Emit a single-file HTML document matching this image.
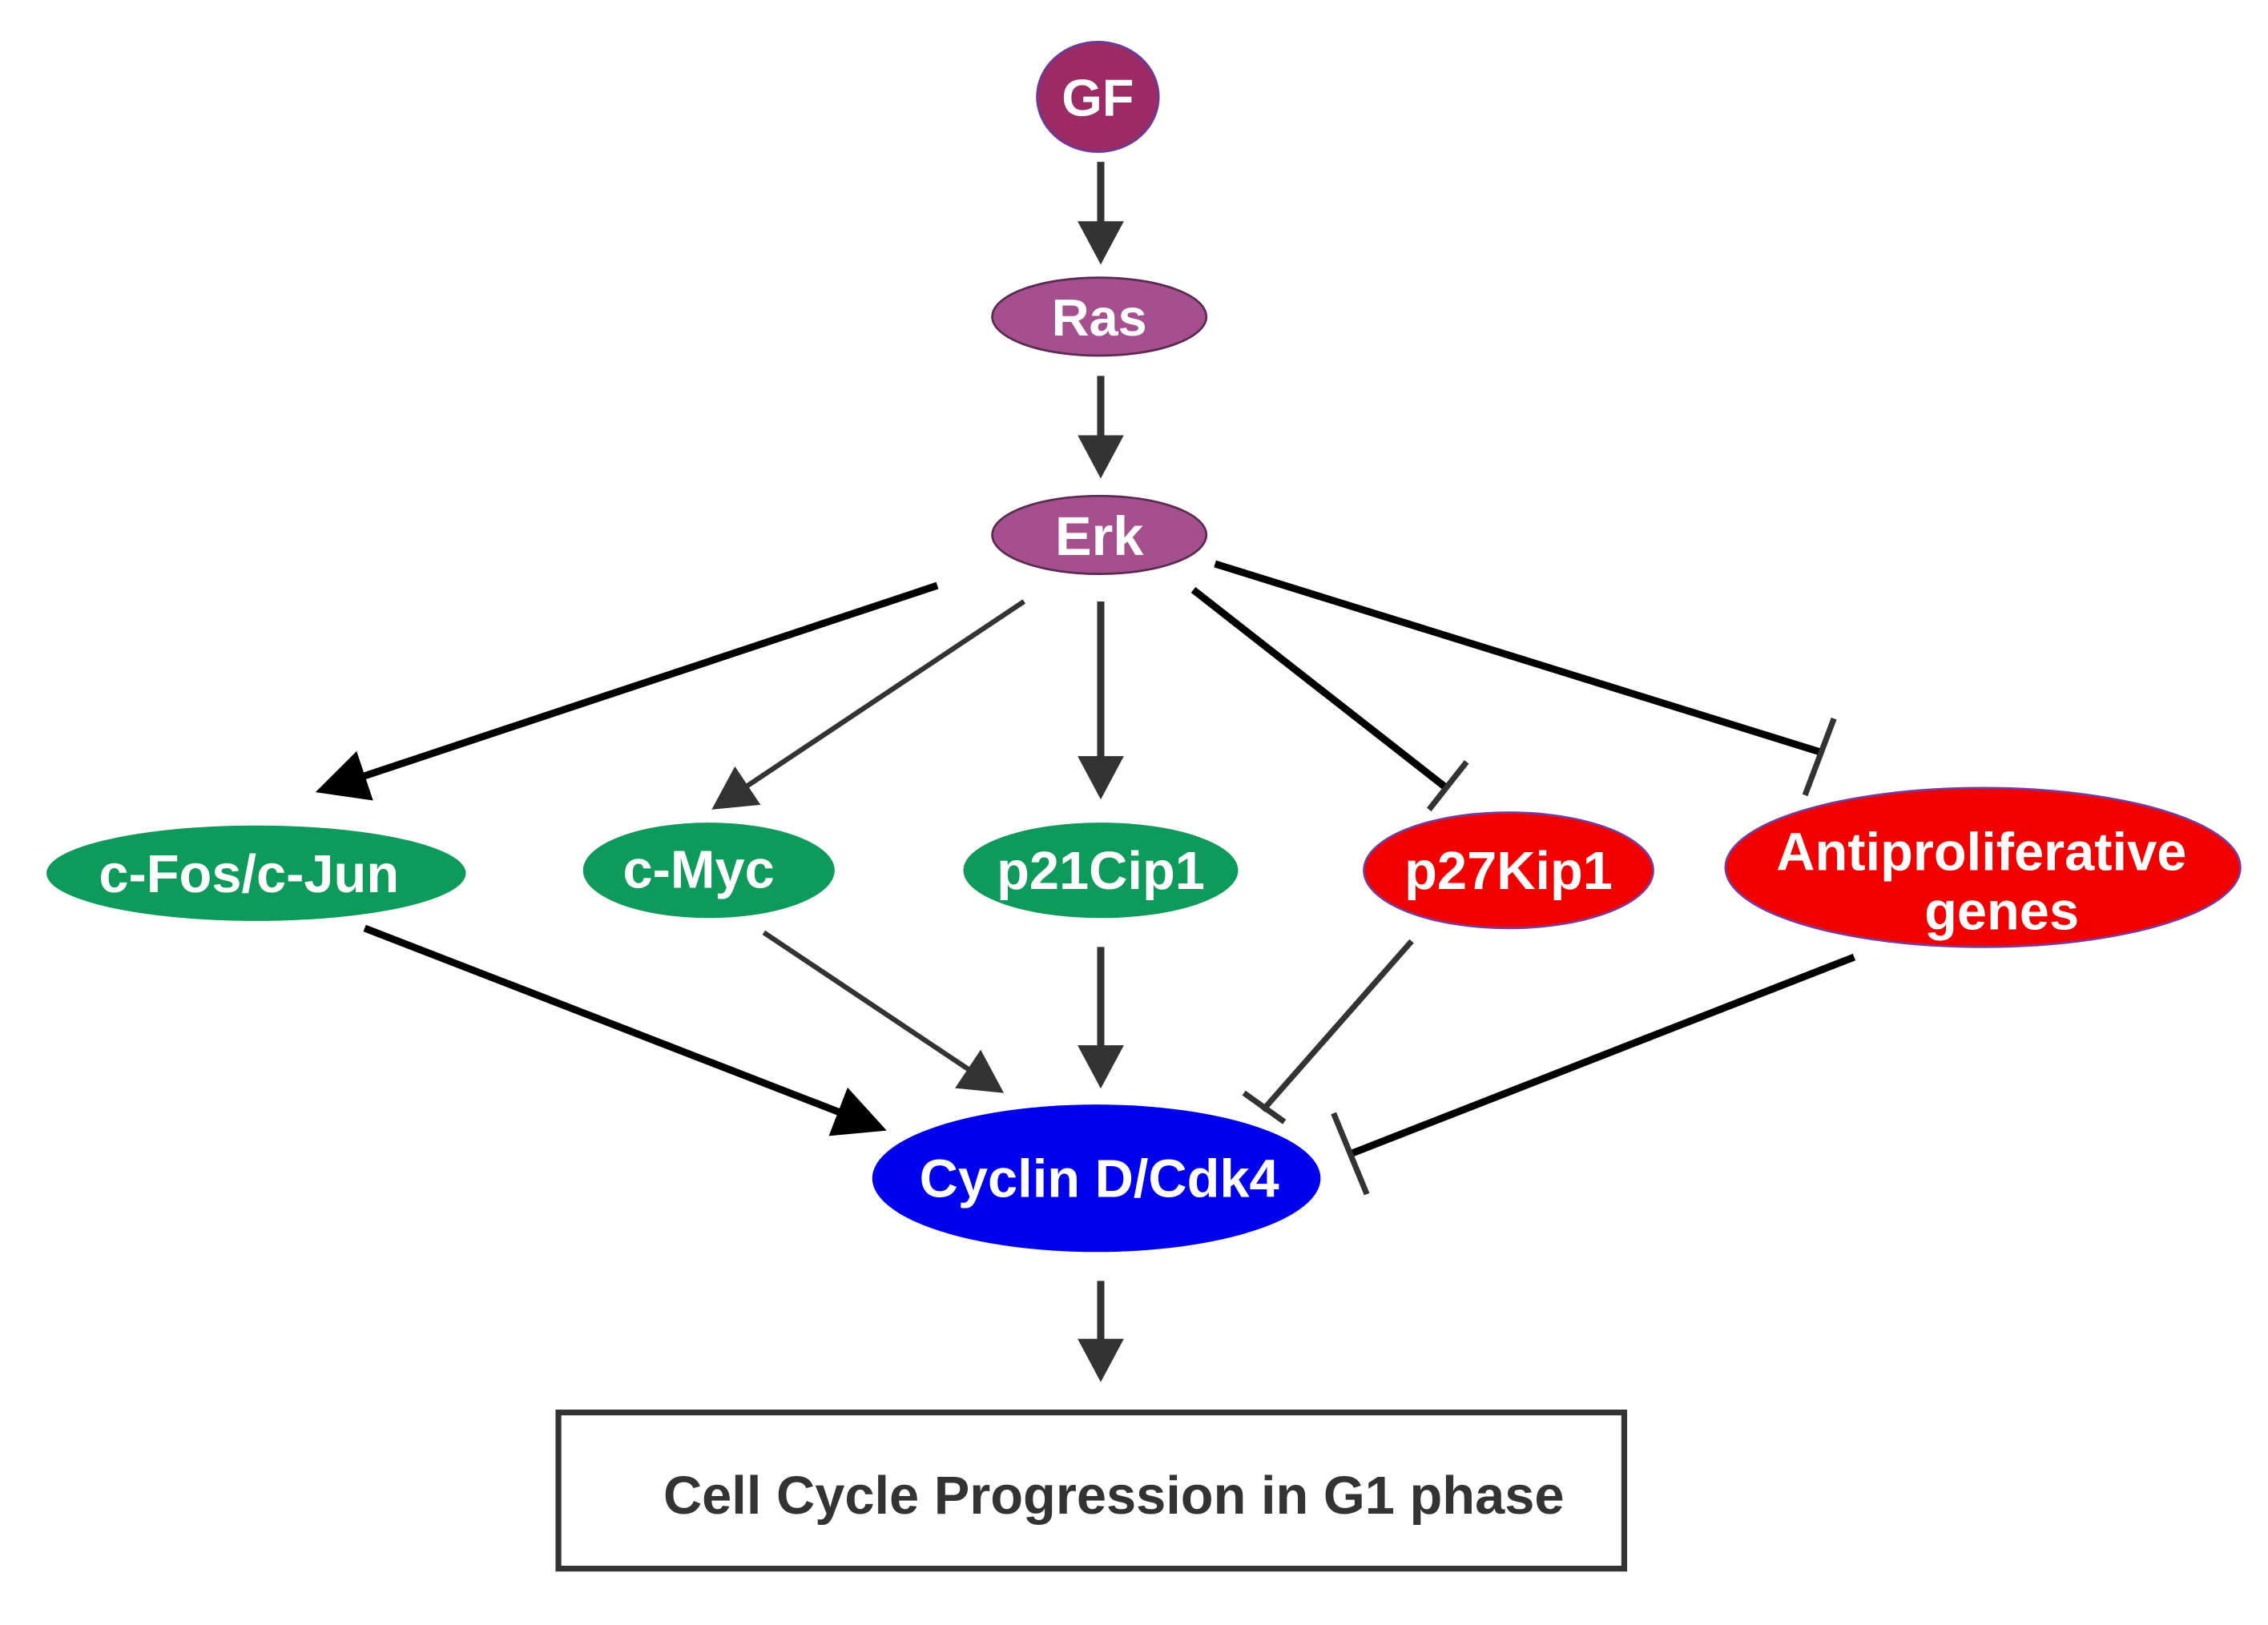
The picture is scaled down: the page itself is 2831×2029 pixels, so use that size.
<!DOCTYPE html>
<html><head><meta charset="utf-8"><style>
html,body{margin:0;padding:0;background:#fff;}
svg{display:block;}
text{font-family:"Liberation Sans",Arial,sans-serif;font-weight:bold;fill:#fff;text-anchor:middle;}
</style></head><body>
<svg width="2831" height="2029" viewBox="0 0 1568 1124" xmlns="http://www.w3.org/2000/svg">
<defs>
<marker id="g" markerUnits="userSpaceOnUse" markerWidth="30" markerHeight="32" viewBox="0 0 30 32" refX="10" refY="16" orient="auto">
<path d="M0,0 L30,16 L0,32 Z" fill="#333"/></marker>
<marker id="b" markerUnits="userSpaceOnUse" markerWidth="36" markerHeight="36" viewBox="0 0 36 36" refX="12" refY="18" orient="auto">
<path d="M0,0 L36,18 L0,36 Z" fill="#000"/></marker>
</defs>
<rect width="1568" height="1124" fill="#fff"/>
<g stroke="#333" stroke-width="5" fill="none">
<line x1="761" y1="112" x2="761" y2="163" marker-end="url(#g)"/>
<line x1="761" y1="260" x2="761" y2="311" marker-end="url(#g)"/>
<line x1="761" y1="416" x2="761" y2="533" marker-end="url(#g)"/>
<line x1="761" y1="655" x2="761" y2="733" marker-end="url(#g)"/>
<line x1="761" y1="886" x2="761" y2="936" marker-end="url(#g)"/>
<line x1="708" y1="416" x2="508.6" y2="548.9" stroke-width="3.5" marker-end="url(#g)"/>
<line x1="528" y1="645" x2="677.4" y2="744.9" stroke-width="3.5" marker-end="url(#g)"/>
</g>
<g stroke="#000" stroke-width="5" fill="none">
<line x1="648" y1="405" x2="240.8" y2="540.4" marker-end="url(#b)"/>
<line x1="252" y1="642" x2="590.6" y2="773.3" marker-end="url(#b)"/>
<line x1="825" y1="408" x2="1000" y2="545"/>
<line x1="840" y1="390" x2="1258" y2="520"/>
<line x1="1282" y1="662" x2="934" y2="798"/>
</g>
<g stroke="#333" stroke-width="4" fill="none">
<line x1="976" y1="651" x2="873" y2="768"/>
<line x1="988" y1="560" x2="1014" y2="527"/>
<line x1="1268" y1="497" x2="1248" y2="550"/>
<line x1="860" y1="756" x2="888" y2="776"/>
<line x1="922" y1="770" x2="945" y2="826"/>
</g>
<ellipse cx="759" cy="67" rx="42" ry="38" fill="#9c2a64" stroke="#6a3a9a" stroke-width="1.5"/>
<text x="759" y="80" font-size="36">GF</text>
<ellipse cx="760" cy="219" rx="74" ry="27" fill="#a64f8e" stroke="#5a2a50" stroke-width="1.5"/>
<text x="760" y="232" font-size="36">Ras</text>
<ellipse cx="760" cy="370" rx="74" ry="27" fill="#a64f8e" stroke="#5a2a50" stroke-width="1.5"/>
<text x="760" y="384" font-size="38">Erk</text>
<ellipse cx="177" cy="604" rx="145" ry="33" fill="#0e9a5a"/>
<text x="172" y="617" font-size="37">c-Fos/c-Jun</text>
<ellipse cx="490" cy="602" rx="87" ry="33" fill="#0e9a5a"/>
<text x="483" y="614" font-size="37">c-Myc</text>
<ellipse cx="761" cy="602" rx="95" ry="33" fill="#0e9a5a"/>
<text x="761" y="615" font-size="37">p21Cip1</text>
<ellipse cx="1043" cy="602" rx="100" ry="40" fill="#f20000" stroke="#7a3a9a" stroke-width="1.5"/>
<text x="1043" y="615" font-size="37">p27Kip1</text>
<ellipse cx="1371" cy="600" rx="178" ry="55" fill="#f20000" stroke="#7a3a9a" stroke-width="1.5"/>
<text x="1370" y="602" font-size="37">Antiproliferative</text>
<text x="1384" y="643" font-size="37">genes</text>
<ellipse cx="758" cy="815" rx="155" ry="51" fill="#0000ee"/>
<text x="760" y="828" font-size="37">Cyclin D/Cdk4</text>
<rect x="386" y="977" width="737" height="108" fill="#fff" stroke="#333" stroke-width="4"/>
<text x="770" y="1047" font-size="37" style="fill:#333">Cell Cycle Progression in G1 phase</text>
</svg>
</body></html>
